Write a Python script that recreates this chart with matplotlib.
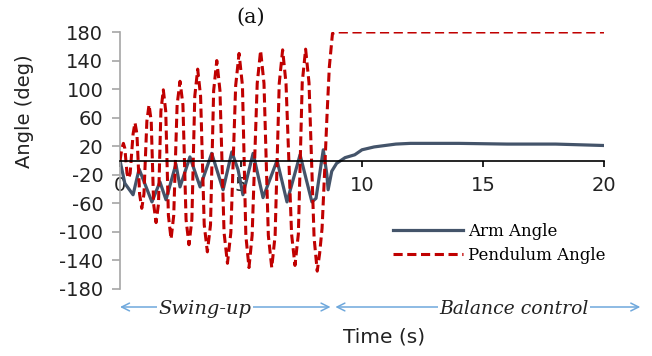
import matplotlib.pyplot as plt

plt.rcParams['axes.unicode_minus'] = False

# pendulum angle (deg) vs time (s)
# (each swing: shoulder, extreme, shoulder)
pend_t = [0.0,
          0.08, 0.14, 0.20, 0.29, 0.35, 0.42,
          0.54, 0.62, 0.70, 0.81, 0.90, 0.99,
          1.11, 1.20, 1.29, 1.39, 1.49, 1.59,
          1.69, 1.79, 1.89, 2.00, 2.11, 2.22,
          2.36, 2.48, 2.60, 2.73, 2.85, 2.97,
          3.09, 3.21, 3.33, 3.48, 3.61, 3.74,
          3.87, 4.00, 4.13, 4.30, 4.44, 4.58,
          4.78, 4.92, 5.06, 5.20, 5.33, 5.46,
          5.67, 5.81, 5.95, 6.13, 6.27, 6.41,
          6.58, 6.72, 6.86, 7.09, 7.23, 7.37,
          7.53, 7.67, 7.81, 8.02, 8.15, 8.25,
          8.35, 8.45, 8.55, 8.65, 8.78, 8.95, 20.0]
pend_a = [0,
          17, 24, 17, -18, -25, -18,
          37, 53, 37, -47, -67, -47,
          55, 78, 55, -61, -87, -61,
          69, 99, 69, -77, -110, -77,
          78, 111, 78, -83, -118, -83,
          90, 128, 90, -90, -128, -90,
          98, 140, 98, -101, -144, -101,
          105, 150, 105, -105, -150, -105,
          108, 154, 108, -105, -150, -105,
          108, 155, 108, -103, -147, -103,
          109, 156, 109, -108, -155, -130,
          -95, -20, 60, 131, 178, 180, 180]

# arm angle (deg)
arm_t = [0.0, 0.2, 0.54, 0.79, 1.32, 1.65, 1.9, 2.31, 2.48, 2.89, 3.31,
         3.79, 4.26, 4.62, 4.88, 5.08, 5.5, 5.91, 6.49, 6.9, 7.44, 7.93,
         8.1, 8.4, 8.55, 8.6, 8.75, 8.95, 9.3, 9.7, 10.0, 10.5, 11.4,
         12.0, 14.0, 16.0, 18.0, 20.0]
arm_a = [0, -32, -48, -12, -58, -30, -55, -5, -37, 5, -37,
         10, -41, 12, -13, -48, 10, -52, 0, -58, 8, -58,
         -53, 15, -20, -41, -15, -4, 4, 8, 15, 19, 23,
         24, 24, 23, 23, 21]

xticks = [0, 5, 10, 15, 20]
yticks = list(range(-180, 181, 40))

red = '#c00000'
slate = '#44546a'
blue = '#6fa8dc'

fig = plt.figure(figsize=(6.52, 3.56), dpi=100)
ax = fig.add_axes([120/652, 67/356, 484/652, 257/356])

ax.plot(arm_t, arm_a, color=slate, lw=2.3, label='Arm Angle', zorder=2)
ax.plot(pend_t, pend_a, color=red, lw=2.2, ls=(0, (3, 1.5)),
        label='Pendulum Angle', zorder=3)

ax.set_xlim(0, 20)
ax.set_ylim(-180, 180)
ax.set_xticks(xticks)
ax.set_yticks(yticks)

for s in ['top', 'right']:
    ax.spines[s].set_visible(False)
ax.spines['left'].set_color('#a6a6a6')
ax.spines['left'].set_linewidth(1.2)
ax.spines['bottom'].set_position(('data', 0))
ax.spines['bottom'].set_color('black')
ax.spines['bottom'].set_linewidth(1.2)
ax.spines['bottom'].set_zorder(4)

ax.tick_params(axis='y', direction='out', length=6, width=1.2,
               color='#a6a6a6', pad=6, labelsize=14, labelcolor='#222222')
ax.tick_params(axis='x', direction='out', length=4.5, width=1.2,
               color='black', pad=7, labelsize=14, labelcolor='#222222')

fig.text(25/652, 1 - 111/356, 'Angle (deg)', rotation=90, ha='center',
         va='center', fontsize=14, color='#222222')
fig.text(384/652, 1 - 337/356, 'Time (s)', ha='center', va='center',
         fontsize=14.5, color='#222222')
fig.text(251/652, 1 - 17/356, '(a)', ha='center', va='center',
         fontsize=15, family='DejaVu Serif', color='#111111')

leg = ax.legend(loc='center left', bbox_to_anchor=(393/652, 1 - 243.5/356),
                bbox_transform=fig.transFigure, frameon=False, borderpad=0,
                borderaxespad=0, handlelength=4.2, handletextpad=0.3,
                labelspacing=0.45, prop={'family': 'DejaVu Serif', 'size': 12})

# phase arrows below the axis
yarr = 356 - 307
ax.annotate('', xy=(0, yarr), xytext=(8.7, yarr),
            xycoords=('data', 'figure pixels'),
            textcoords=('data', 'figure pixels'),
            arrowprops=dict(arrowstyle='<->', color=blue, lw=1.1,
                            shrinkA=0, shrinkB=0, mutation_scale=14))
ax.annotate('', xy=(8.9, yarr), xytext=(21.5, yarr),
            xycoords=('data', 'figure pixels'),
            textcoords=('data', 'figure pixels'),
            arrowprops=dict(arrowstyle='<->', color=blue, lw=1.1,
                            shrinkA=0, shrinkB=0, mutation_scale=14))
fig.text(205/652, 1 - 309/356, 'Swing-up', ha='center', va='center',
         fontsize=14, family='DejaVu Serif', style='italic', color='#222222',
         bbox=dict(fc='white', ec='none', pad=1))
fig.text(514/652, 1 - 309/356, 'Balance control', ha='center', va='center',
         fontsize=13.5, family='DejaVu Serif', style='italic', color='#222222',
         bbox=dict(fc='white', ec='none', pad=1))

plt.savefig('out.png', dpi=100)
